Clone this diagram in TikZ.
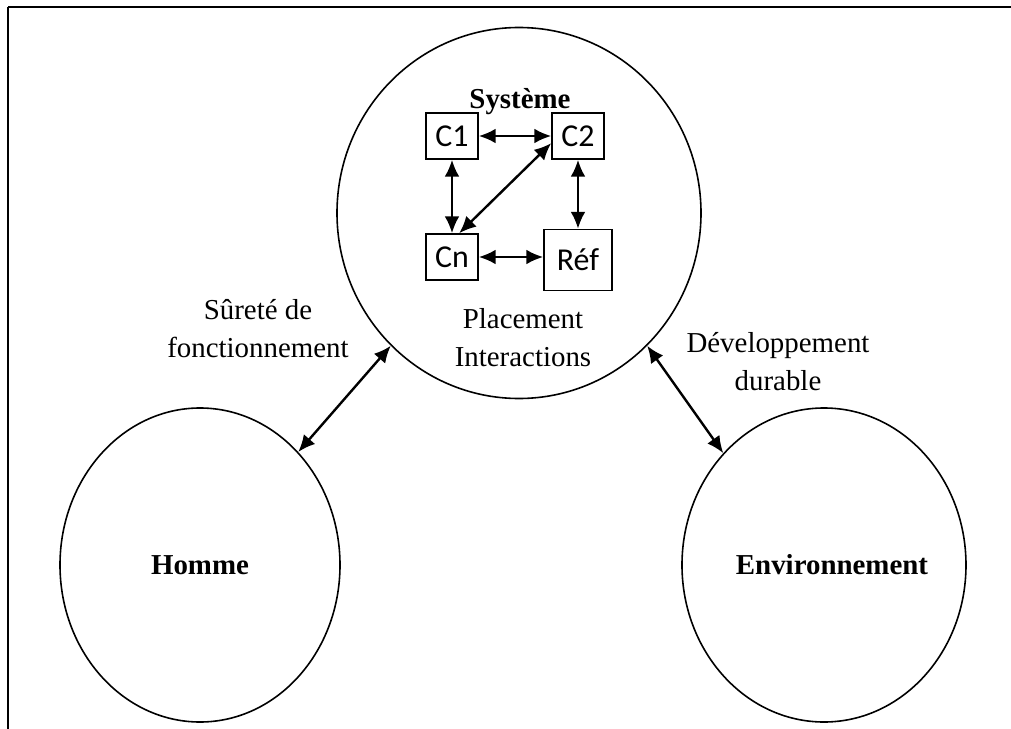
\documentclass[tikz,border=0pt]{standalone}
\usepackage{fontspec}
\setmainfont{Liberation Serif}
\newfontfamily\boxfont{Carlito}
\usetikzlibrary{arrows.meta, shapes.geometric}

\begin{document}
\begin{tikzpicture}[x=0.5bp, y=-0.5bp,
  font=\fontsize{14.5}{19}\selectfont,
  bulle/.style={draw, ellipse, line width=0.8pt, inner sep=0pt},
  titre/.style={font=\fontsize{14.5}{19}\selectfont\bfseries},
  comp/.style={draw, rectangle, line width=0.8pt, inner sep=0pt,
    font=\boxfont\fontsize{16}{19}\selectfont},
  lien/.style={{Latex[length=8.5pt,width=7.5pt]}-{Latex[length=8.5pt,width=7.5pt]},
    line width=1.2pt}]
\fill[white, use as bounding box] (0,0) rectangle (1011,729);
% cadre (haut et gauche)
\coordinate (coin) at (8,7);
\draw[line width=1pt] (coin) -- (8,729);
\draw[line width=1pt] (coin) -- (1011,7);
% les trois bulles
\node[bulle, minimum width=182bp, minimum height=185.5bp] (sys) at (519,213) {};
\node[bulle, titre, minimum width=140bp, minimum height=157bp] (homme) at (200,565) {Homme};
\node[bulle, titre, minimum width=142bp, minimum height=157bp] (env) at (824,565) {};
\node[titre] (envtxt) at (832,565) {Environnement};
\node[titre] (systitre) at (520,102) {Système};
\node[align=center] (plac) at (523,338) {Placement\\Interactions};
% composants
\node[comp, minimum width=26bp, minimum height=23bp] (c1) at (452,136) {C1};
\node[comp, minimum width=26bp, minimum height=23bp] (c2) at (578,136) {C2};
\node[comp, minimum width=26bp, minimum height=23bp] (cn) at (452,257) {Cn};
\node[comp, minimum width=34bp, minimum height=30.5bp] (ref) at (578,260) {Réf};
\draw[lien] (c1) -- (c2);
\draw[lien] (c1) -- (cn);
\draw[lien] (c2) -- (ref);
\draw[lien] (cn.east) -- (cn.east -| ref.west);
\draw[lien] (c2.195) -- (cn.73);
% liens externes
\node[align=center] (surete) at (258,329) {Sûreté de\\fonctionnement};
\node[align=center] (devdur) at (778,362) {Développement\\durable};
\draw[lien] (sys.226) -- (homme.49);
\draw[lien] (sys.314) -- (env.132);
\end{tikzpicture}
\end{document}
